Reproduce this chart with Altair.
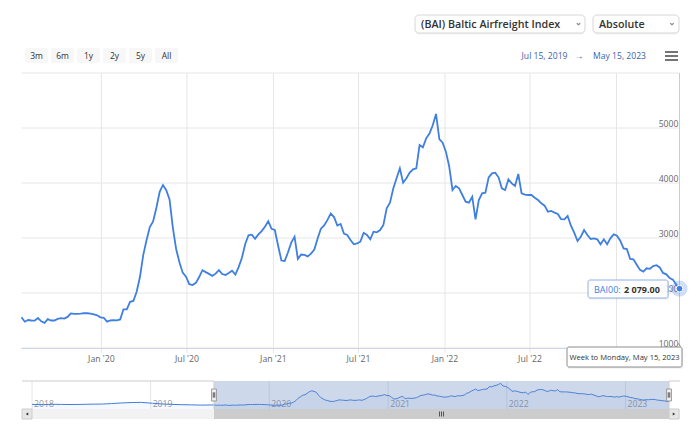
import altair as alt
import pandas as pd

# ---------------- data ----------------
series_name = "BAI00"
start_date = "2019-07-15"
end_date = "2023-05-15"
bai_values = [
    1558, 1478, 1509, 1500, 1497, 1545, 1485, 1458, 1525, 1500,
    1500, 1530, 1543, 1535, 1565, 1628, 1620, 1620, 1626, 1634,
    1632, 1625, 1610, 1595, 1557, 1550, 1480, 1500, 1506, 1503,
    1520, 1703, 1703, 1840, 1855, 2024, 2290, 2690, 2960, 3200,
    3300, 3550, 3840, 3964, 3870, 3700, 3190, 2800, 2560, 2370,
    2297, 2160, 2145, 2185, 2290, 2415, 2380, 2348, 2312, 2352,
    2415, 2345, 2328, 2365, 2405, 2335, 2470, 2640, 2890, 3050,
    3061, 2985, 3065, 3125, 3205, 3305, 3168, 3145, 2860, 2590,
    2582, 2740, 2915, 3024, 2620, 2700, 2693, 2665, 2715, 2790,
    2990, 3170, 3230, 3330, 3445, 3380, 3225, 3255, 3080, 3055,
    2964, 2885, 2903, 2933, 3095, 3055, 2976, 3115, 3103, 3145,
    3236, 3540, 3642, 3900, 4085, 4267, 4006, 4085, 4188, 4249,
    4267, 4690, 4650, 4812, 4900, 5050, 5255, 4800, 4733, 4570,
    4300, 3873, 3945, 3903, 3782, 3660, 3642, 3751, 3339, 3691,
    3812, 3824, 4103, 4176, 4188, 4103, 3903, 3873, 4067, 3994,
    3945, 4164, 3812, 3788, 3782, 3782, 3733, 3691, 3630, 3588,
    3478, 3491, 3461, 3436, 3345, 3339, 3400, 3224, 3097, 2945,
    3024, 3145, 3055, 2982, 2994, 2976, 2885, 2976, 2885, 2994,
    3067, 3042, 2952, 2812, 2800, 2618, 2612, 2515, 2420, 2390,
    2450, 2440, 2490, 2505, 2465, 2365, 2340, 2270, 2240, 2155,
    2079,
]
nav_pre_dates = [
    "2018-01-01", "2018-02-05", "2018-03-05", "2018-04-02", "2018-05-07",
    "2018-06-04", "2018-07-02", "2018-08-06", "2018-09-03", "2018-10-01",
    "2018-11-05", "2018-12-03", "2019-01-07", "2019-02-04", "2019-03-04",
    "2019-04-01", "2019-05-06", "2019-06-03", "2019-07-08",
]
nav_pre_values = [
    1640, 1600, 1660, 1630, 1620, 1640, 1680, 1700, 1780, 1880,
    1960, 1990, 1830, 1720, 1650, 1600, 1560, 1520, 1540,
]
y_tick_values = [1000, 2000, 3000, 4000, 5000]
y_grid_values = [1000, 2000, 3000, 4000, 5000, 6000]
x_grid_dates = ["2020-01-01", "2020-07-01", "2021-01-01", "2021-07-01",
                "2022-01-01", "2022-07-01", "2023-01-01"]
# labels that are visible (Jan '23 sits under the date tooltip)
x_label_dates = ["2020-01-01", "2020-07-01", "2021-01-01", "2021-07-01",
                 "2022-01-01", "2022-07-01"]
nav_year_dates = ["2018-01-01", "2019-01-01", "2020-01-01", "2021-01-01",
                  "2022-01-01", "2023-01-01"]
range_buttons = ["3m", "6m", "1y", "2y", "5y", "All"]
index_label = "(BAI) Baltic Airfreight Index"
mode_label = "Absolute"
nav_start = "2018-01-01"

# ---------------- tables ----------------
dates = pd.date_range(start_date, end_date, freq="7D")
main_df = pd.DataFrame({"date": dates, "value": bai_values})
nav_df = pd.concat([
    pd.DataFrame({"date": pd.to_datetime(nav_pre_dates), "value": nav_pre_values}),
    main_df,
], ignore_index=True)
last_df = main_df.iloc[[-1]].reset_index(drop=True)
ytick_df = pd.DataFrame({"value": y_tick_values, "lab": [str(v) for v in y_tick_values]})
ygrid_df = pd.DataFrame({"value": y_grid_values})
xgrid_df = pd.DataFrame({"date": pd.to_datetime(x_grid_dates)})
xl = pd.to_datetime(x_label_dates)
xlab_df = pd.DataFrame({"date": xl, "lab": [d.strftime("%b '%y") for d in xl]})
t0, t1 = pd.Timestamp(start_date), pd.Timestamp(end_date)
range_df = pd.DataFrame({"s": [t0], "e": [t1], "m": [t0 + (t1 - t0) / 2]})
ends_df = pd.DataFrame({"date": [t0, t1]})
years_df = pd.DataFrame({"date": pd.to_datetime(nav_year_dates),
                         "lab": [d[:4] for d in nav_year_dates]})
dummy = pd.DataFrame({"k": [0]})

# ---------------- geometry / style ----------------
FONT = "Open Sans"
LINE = "#3f7fe0"
GRID = "#e6e6e6"
OX, OY = 21.5, 73.0          # page position of plot origin
W, H = 658, 275
SVG_W, SVG_H = 684, 413


def rx(px):
    return px - OX


def ry(py):
    return py - OY


def dt(s):
    t = pd.Timestamp(s)
    return alt.DateTime(year=t.year, month=t.month, date=t.day)


xs = alt.Scale(domain=[dt(start_date), dt(end_date)], nice=False)
ys = alt.Scale(domain=[1000, 6000], zero=False, nice=False)
nxs = alt.Scale(domain=[dt(nav_start), dt(end_date)], range=[rx(32), rx(669)], nice=False)
nys = alt.Scale(domain=[850, 5650], range=[ry(409), ry(381)], zero=False, nice=False)


def MX(f):
    return alt.X(f, type="temporal", scale=xs, axis=None)


def MY(f):
    return alt.Y(f, type="quantitative", scale=ys, axis=None)


def NX(f):
    return alt.X(f, type="temporal", scale=nxs, axis=None)


def NY(f):
    return alt.Y(f, type="quantitative", scale=nys, axis=None)


def box(x1, y1, x2, y2, **kw):
    return alt.Chart(dummy).mark_rect(**kw).encode(
        x=alt.value(rx(x1)), x2=alt.value(rx(x2)),
        y=alt.value(ry(y1)), y2=alt.value(ry(y2)))


def txt(s, px, py, **kw):
    kw.setdefault("font", FONT)
    kw.setdefault("baseline", "middle")
    return alt.Chart(dummy).mark_text(**kw).encode(
        x=alt.value(rx(px)), y=alt.value(ry(py)), text=alt.value(s))


def hline(x1, x2, py, **kw):
    return alt.Chart(dummy).mark_rule(**kw).encode(
        x=alt.value(rx(x1)), x2=alt.value(rx(x2)), y=alt.value(ry(py)))


def sym(shape, px, py, size, **kw):
    return alt.Chart(dummy).mark_point(shape=shape, size=size, **kw).encode(
        x=alt.value(rx(px)), y=alt.value(ry(py)))


# ---------------- main plot ----------------
ygrid = alt.Chart(ygrid_df).mark_rule(color=GRID, strokeWidth=1).encode(
    y=MY("value"), x=alt.value(0), x2=alt.value(W))
xgrid = alt.Chart(xgrid_df).mark_rule(color=GRID, strokeWidth=1).encode(
    x=MX("date"), y=alt.value(0), y2=alt.value(ry(353)))
xaxis_line = hline(OX, OX + W, 348.5, color="#ccd6eb", strokeWidth=1)
xlabels = alt.Chart(xlab_df).mark_text(
    align="center", baseline="middle", font=FONT, fontSize=8.7, color="#666").encode(
    x=MX("date"), y=alt.value(ry(359)), text="lab:N")

line = alt.Chart(main_df).mark_line(color=LINE, strokeWidth=1.8).encode(
    x=MX("date"), y=MY("value"))

crosshair = alt.Chart(last_df).mark_rule(color="#cccccc", strokeWidth=1).encode(
    x=MX("date"), y=alt.value(0), y2=alt.value(ry(348)))

ylabels = alt.Chart(ytick_df).mark_text(
    align="right", baseline="alphabetic", dy=-1.5, font=FONT, fontSize=8.7,
    color="#666").encode(
    x=alt.value(rx(678.5)), y=MY("value"), text="lab:N")

halo = alt.Chart(last_df).mark_circle(color=LINE, opacity=0.25, size=260).encode(
    x=MX("date"), y=MY("value"))
marker = alt.Chart(last_df).mark_point(
    filled=True, fill=LINE, stroke="white", strokeWidth=1, size=45, opacity=1,
    shape="circle").encode(x=MX("date"), y=MY("value"))

value_text = f"{bai_values[-1]:,.2f}".replace(",", " ")
header_text = "Week to Monday, " + t1.strftime("%B %d, %Y")

tooltip_layers = [
    box(589, 281, 669, 299.5, fill="#000", opacity=0.07),
    sym("triangle-right", 670.5, 289, 28, filled=True, fill="white",
        stroke="#8fb0e6", strokeWidth=1, opacity=1),
    box(588, 280, 668, 298, fill="white", fillOpacity=0.92, stroke="#8fb0e6",
        strokeWidth=1, cornerRadius=2),
    txt(series_name + ":", 594, 289.5, align="left", fontSize=9, color=LINE),
    txt(value_text, 624, 289.5, align="left", fontSize=9, fontWeight="bold",
        color="#333"),
    # header (x-axis) tooltip
    box(568, 348, 683, 368.5, fill="#000", opacity=0.07),
    sym("triangle-up", 678.5, 345.5, 22, filled=True, fill="white",
        stroke="#8c8c8c", strokeWidth=1, opacity=1),
    box(567, 347, 682, 367, fill="white", stroke="#8c8c8c", strokeWidth=1,
        cornerRadius=2),
    txt(header_text, 624.5, 357.5, align="center", fontSize=7.6, color="#333"),
]

# ---------------- header UI ----------------
ui_layers = []
for i, lab in enumerate(range_buttons):
    ui_layers.append(box(25 + 26 * i, 48, 48 + 26 * i, 63, fill="#f7f7f7",
                         cornerRadius=2))
    ui_layers.append(txt(lab, 36.5 + 26 * i, 56, align="center", fontSize=8.5,
                         color="#333"))

chev = "M-1,-0.45L0,0.45L1,-0.45"
ui_layers += [
    box(415, 16, 585, 34.5, fill="#000", opacity=0.05, cornerRadius=4),
    box(415, 15, 585, 33, fill="white", stroke="#d6d6d6", strokeWidth=1,
        cornerRadius=4),
    txt(index_label, 421, 24.5, align="left", fontSize=10.7, fontWeight=600,
        color="#333"),
    sym(chev, 578.5, 24, 12, filled=False, color="#555", strokeWidth=1.1),
    box(593, 16, 679, 34.5, fill="#000", opacity=0.05, cornerRadius=4),
    box(593, 15, 679, 33, fill="white", stroke="#d6d6d6", strokeWidth=1,
        cornerRadius=4),
    txt(mode_label, 599, 24.5, align="left", fontSize=10.7, fontWeight=600,
        color="#333"),
    sym(chev, 672, 24, 12, filled=False, color="#555", strokeWidth=1.1),
    txt(t0.strftime("%b %d, %Y"), 544.5, 56, align="center", fontSize=8.6,
        color="#3d5fad"),
    txt("\u2192", 579, 56, align="center", fontSize=8.6, color="#3d5fad"),
    txt(t1.strftime("%b %d, %Y"), 619.5, 56, align="center", fontSize=8.6,
        color="#3d5fad"),
    hline(665, 678, 52, color="#666", strokeWidth=1.8),
    hline(665, 678, 56, color="#666", strokeWidth=1.8),
    hline(665, 678, 60, color="#666", strokeWidth=1.8),
]

main_layer = alt.layer(ygrid, xgrid, xaxis_line, xlabels, line, crosshair, ylabels,
                       *tooltip_layers, halo, marker, *ui_layers)

# ---------------- navigator ----------------
nav_grid = alt.Chart(years_df).mark_rule(color=GRID).encode(
    x=NX("date"), y=alt.value(ry(381)), y2=alt.value(ry(409)))
nav_labels = alt.Chart(years_df).mark_text(
    align="left", baseline="middle", dx=2, font=FONT, fontSize=8.7,
    color="#999").encode(x=NX("date"), y=alt.value(ry(403.5)), text="lab:N")
nav_area = alt.Chart(nav_df).mark_area(color=LINE, opacity=0.05).encode(
    x=NX("date"), y=NY("value"), y2=alt.value(ry(409)))
nav_line = alt.Chart(nav_df).mark_line(color=LINE, strokeWidth=1).encode(
    x=NX("date"), y=NY("value"))
nav_mask = alt.Chart(range_df).mark_rect(fill="#6685c2", opacity=0.32).encode(
    x=NX("s"), x2="e:T", y=alt.value(ry(381)), y2=alt.value(ry(409)))

OUT = "#cccccc"
outline = [
    alt.Chart(range_df).mark_rule(color=OUT).encode(
        x=NX("s"), x2=alt.value(rx(22)), y=alt.value(ry(381))),
    alt.Chart(range_df).mark_rule(color=OUT).encode(
        x=NX("e"), x2=alt.value(rx(680)), y=alt.value(ry(381))),
    alt.Chart(ends_df).mark_rule(color=OUT).encode(
        x=NX("date"), y=alt.value(ry(381)), y2=alt.value(ry(409))),
]

scroll = [
    box(22, 409, 680, 419, fill="#f2f2f2"),
    alt.Chart(range_df).mark_rect(fill="#cccccc").encode(
        x=NX("s"), x2="e:T", y=alt.value(ry(409)), y2=alt.value(ry(419))),
    box(22, 409, 32, 419, fill="#e6e6e6", stroke="#cccccc", strokeWidth=1),
    box(669, 409, 679, 419, fill="#e6e6e6", stroke="#cccccc", strokeWidth=1),
    sym("triangle-left", 27, 414, 8, filled=True, color="#333", opacity=1),
    sym("triangle-right", 674, 414, 8, filled=True, color="#333", opacity=1),
]
for off in (-2, 0, 2):
    scroll.append(alt.Chart(range_df).mark_rule(
        color="#333", strokeWidth=0.8, xOffset=off).encode(
        x=NX("m"), y=alt.value(ry(411.5)), y2=alt.value(ry(416.5))))

handles = [
    alt.Chart(ends_df).mark_point(
        shape="M-0.4,-1L0.4,-1L0.4,1L-0.4,1Z", size=144, filled=True,
        fill="#f2f2f2", stroke="#999", strokeWidth=1, opacity=1).encode(
        x=NX("date"), y=alt.value(ry(395))),
    alt.Chart(ends_df).mark_point(
        shape="M-0.12,-0.45L-0.12,0.45M0.12,-0.45L0.12,0.45", size=144,
        filled=False, color="#333", strokeWidth=0.8, opacity=1).encode(
        x=NX("date"), y=alt.value(ry(395))),
]

nav_layer = alt.layer(nav_grid, nav_labels, nav_area, nav_line, nav_mask,
                      *outline, *scroll, *handles)

chart = alt.layer(main_layer, nav_layer).resolve_scale(
    x="independent", y="independent"
).properties(
    width=W, height=H,
    autosize=alt.AutoSizeParams(type="none"),
    padding={"left": OX - 8, "top": OY - 8,
             "right": SVG_W - (OX - 8) - W, "bottom": SVG_H - (OY - 8) - H},
    background="white",
).configure_view(stroke=None)

chart.save("out.html", embed_options={"renderer": "svg", "actions": False})
